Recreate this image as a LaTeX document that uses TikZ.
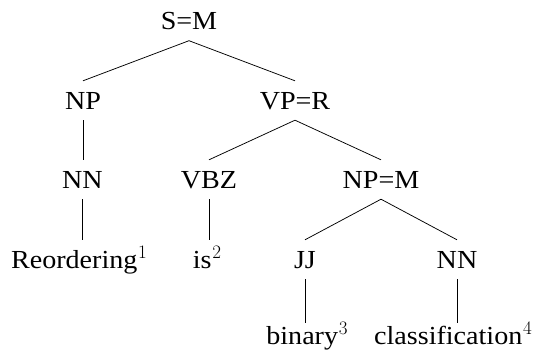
\RequirePackage{fix-cm}
\documentclass[tikz,border=0pt]{standalone}
\usepackage[no-math]{fontspec}
\setmainfont[FakeStretch=1.08]{Liberation Serif}
\newfontfamily\lmrfont{Latin Modern Roman}
\newcommand{\supnum}[1]{\kern0.8pt\raisebox{10pt}{\lmrfont\fontsize{19}{20}\selectfont #1}}
\begin{document}
\begin{tikzpicture}[x=1pt,y=-1pt,
  lab/.style={anchor=base,inner sep=0pt,text height=28pt,text depth=11pt,font=\fontsize{26}{30}\selectfont},
  leaf/.style={lab,text height=21pt},
  edge/.style={line width=0.75pt}]
\useasboundingbox (0,0) rectangle (538,356);
\node[lab] (s)   at (189,29.5) {S=M};
\node[lab] (np1) at (83,109) {NP};
\node[lab] (vp)  at (295,109) {VP=R};
\node[lab] (nn1) at (82.5,188) {NN};
\node[lab] (vbz) at (209,188) {VBZ};
\node[lab] (np2) at (381,188) {NP=M};
\node[lab] (w1)  at (79,268) {Reordering\supnum{1}};
\node[lab] (w2)  at (207,268) {is\supnum{2}};
\node[lab] (jj)  at (305,268) {JJ};
\node[lab] (nn2) at (457,268) {NN};
\node[leaf] (w3) at (307,344) {binary\supnum{3}};
\node[leaf] (w4) at (453,344) {classification\supnum{4}};
\draw[edge] (s.south) -- (np1.north);
\draw[edge] (s.south) -- (vp.north);
\draw[edge] (np1.south) -- (np1.south |- nn1.north);
\draw[edge] (vp.south) -- (vbz.north);
\draw[edge] (vp.south) -- (np2.north);
\draw[edge] (nn1.south) -- (nn1.south |- w1.north);
\draw[edge] (vbz.south) -- (vbz.south |- w2.north);
\draw[edge] (np2.south) -- (jj.north);
\draw[edge] (np2.south) -- (nn2.north);
\draw[edge] (jj.south) -- (jj.south |- w3.north);
\draw[edge] (nn2.south) -- (nn2.south |- w4.north);
\end{tikzpicture}
\end{document}
